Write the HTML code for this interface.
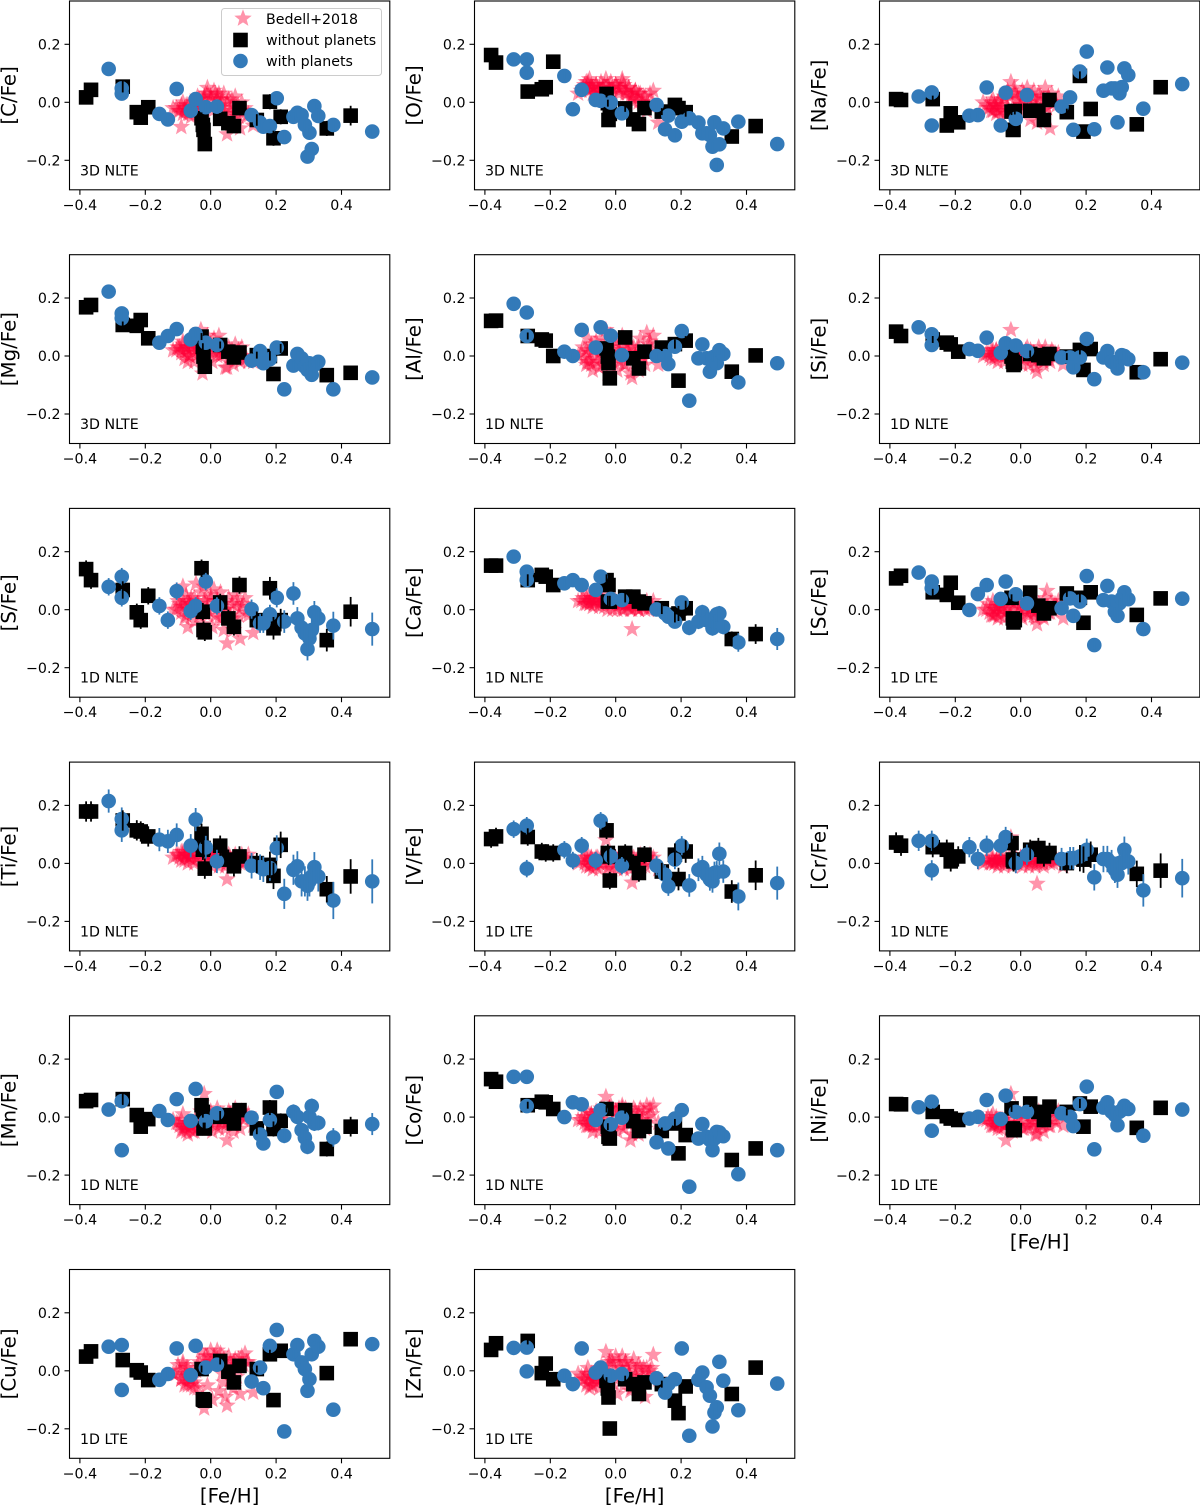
<!DOCTYPE html>
<html lang="en">
<head>
<meta charset="utf-8">
<title>Abundance ratios versus metallicity</title>
<style>
html,body{margin:0;padding:0;background:#fff;}
#figure{display:block;width:1200px;height:1506px;font-family:"DejaVu Sans","Liberation Sans",sans-serif;}
</style>
</head>
<body>
<svg id="figure" width="1200" height="1506" viewBox="0 0 1200 1506" xmlns="http://www.w3.org/2000/svg"></svg>
<script>
// Shared tick labels
const xTicks = [-0.4, -0.2, 0.0, 0.2, 0.4];
const yTicks = [-0.2, 0.0, 0.2];

// Shared [Fe/H] values
const starFeH = [-.115,-.10,-.09,-.085,-.08,-.075,-.07,-.065,-.06,-.05,-.045,-.04,-.03,-.025,-.02,-.015,-.01,0,.005,.01,.02,.025,.03,.04,.045,.05,.055,.06,.07,.075,.08,.09,.095,.105,.115,.13];
const coreFeH = [-.105,-.095,-.09,-.085,-.08,-.075,-.07,-.065,-.06,-.055,-.05,-.04,-.035,-.02,-.01,0,.01,.015,.02,.03,.035,.04,.05,.06,.065,.07,.08,.085,.1,.11];
const noPlanetFeH = [-.381,-.366,-.269,-.226,-.214,-.191,-.028,-.024,-.022,-.018,.029,.054,.071,.088,.141,.181,.192,.214,.355,.428];
const planetFeH = [-.312,-.272,-.272,-.157,-.131,-.104,-.061,-.046,-.015,.019,.125,.151,.161,.181,.202,.225,.253,.265,.278,.288,.296,.302,.309,.317,.329,.375,.494];

// Relative uncertainty of each star
const noPlanetErrWeight = [1,1,1,1,1,1,1,1,1,1,1,1,1,1,1,1.3,1.3,1.3,1.3,1.7];
const planetErrWeight = [1,1,1,1,1,1,1,1,1,1,1.1,1.1,1.1,1.1,1.1,1.3,1.3,1.3,1.3,1.3,1.3,1.3,1.3,1.3,1.3,1.6,1.9];

// [C/Fe]
const cStars = [-.02,-.03,-.085,0,-.03,-.01,-.04,-.03,-.05,-.02,0,.02,-.01,-.03,.01,.03,.05,.02,-.03,.04,.01,.03,-.02,.03,-.05,-.11,.01,-.03,-.08,.02,-.04,-.09,0,-.02,-.04,-.08];
const cCore = [-.02,-.03,-.01,-.04,-.02,-.03,-.01,-.04,-.02,-.03,0,-.02,.01,.02,.03,.01,-.01,.03,.02,-.01,.01,-.03,0,-.02,.01,-.04,-.02,-.05,-.03,-.05];
const cNoPlanet = [.017,.043,.054,-.034,-.053,-.017,-.055,-.078,-.095,-.144,-.057,-.072,-.082,-.02,-.061,.002,-.124,-.05,-.09,-.046];
const cPlanet = [.115,.048,.03,-.04,-.059,.046,-.029,.011,-.017,-.015,-.044,-.07,-.084,-.082,.014,-.12,-.05,-.036,-.044,-.078,-.187,-.105,-.161,-.013,-.047,-.078,-.101];

// [O/Fe]
const oStars = [.03,.05,.07,.06,.08,.05,.03,.04,.06,.04,.07,.05,.08,.06,.04,.07,.03,.06,.05,.04,.08,.06,.03,.05,.02,.01,.03,.04,0,.03,-.02,.02,-.03,.03,.04,-.07];
const oCore = [.04,.06,.05,.07,.04,.06,.05,.03,.06,.04,.05,.03,.06,.04,.05,.06,.03,.05,.07,.04,.03,.05,.02,.04,.01,.03,.0,.02,-.01,.0];
const oNoPlanet = [.163,.137,.037,.045,.052,.14,.029,-.003,-.061,-.04,-.021,-.059,-.075,-.02,-.032,-.009,-.02,-.034,-.118,-.082];
const oPlanet = [.148,.148,.102,.091,-.024,.043,.008,.005,-.001,-.038,-.009,-.093,-.046,-.114,-.067,-.055,-.07,-.107,-.107,-.113,-.153,-.069,-.216,-.145,-.09,-.067,-.144];

// [Na/Fe]
const naStars = [0,-.02,-.03,.01,-.01,-.04,-.03,.01,-.05,.02,-.04,.04,.07,-.02,.05,.03,.01,-.01,.04,-.03,.05,.02,-.06,.04,-.02,-.07,.03,0,-.05,.05,-.02,-.09,.03,0,.02,-.01];
const naCore = [-.01,-.02,0,-.03,-.01,-.02,0,-.03,-.01,-.02,.01,-.02,.02,.03,.01,-.01,.03,.0,.02,-.02,.02,.01,-.01,.02,-.03,.01,-.02,.02,.0,-.01];
const naNoPlanet = [.011,.008,.011,-.08,-.038,-.069,-.032,-.095,-.095,-.03,-.029,-.029,-.061,.008,-.034,.091,-.101,-.023,-.076,.052];
const naPlanet = [.02,.034,-.08,-.046,-.044,.051,-.08,.033,-.057,.025,-.015,.017,-.095,.106,.175,-.093,.04,.12,.048,.048,-.069,.031,.052,.117,.094,-.022,.063];

// [Mg/Fe]
const mgStars = [.02,.03,.01,.05,-.01,.03,-.02,0,.04,-.02,.05,.03,.09,-.06,.05,.02,.07,.03,-.02,.06,.01,.07,0,.02,-.04,-.04,.03,.01,-.03,.04,0,-.02,.03,-.01,-.02,-.02];
const mgCore = [.02,.03,.02,.04,.01,.03,.02,.0,.03,.01,.02,.04,.01,.03,.02,.04,.01,.03,.0,.02,.03,.01,.02,.0,.02,.01,-.01,.02,.0,-.01];
const mgNoPlanet = [.168,.176,.107,.104,.124,.061,.067,.032,-.002,-.037,.038,.015,-.005,.012,.003,0,-.062,.026,-.066,-.058];
const mgPlanet = [.222,.147,.13,.046,.069,.093,.057,.076,.046,.038,-.016,.017,-.025,-.011,.029,-.115,-.033,.007,-.008,-.037,-.048,-.025,-.065,-.031,-.02,-.115,-.074];

// [Al/Fe]
const alStars = [0,.03,-.03,.06,-.02,.04,-.05,.02,.05,-.04,.06,0,.09,-.06,.03,.07,-.02,.05,-.05,.02,.07,-.03,.04,.01,-.06,-.075,.03,0,-.05,.06,0,-.03,.08,.05,.07,-.03];
const alCore = [.01,-.01,.02,-.02,.01,-.03,.02,-.01,.03,-.02,.01,-.03,.03,-.01,.02,.04,-.02,.01,.03,-.03,.02,-.01,.03,.0,-.02,.03,.01,-.01,.04,.02];
const alNoPlanet = [.121,.122,.069,.057,.053,0,.026,-.002,-.025,-.077,.064,-.008,-.043,.015,.029,.041,-.085,.053,-.054,.002];
const alPlanet = [.18,.15,.069,.015,0,.09,.029,.099,.07,.003,0,0,-.028,.032,.086,-.154,-.008,.04,-.008,-.054,-.005,-.002,-.025,.02,.007,-.091,-.025];

// [Si/Fe]
const siStars = [0,.01,-.01,.02,-.01,.02,-.02,.01,.02,-.02,.03,.01,.09,-.03,.02,.03,-.02,.02,-.03,.01,.03,-.03,.02,-.02,-.04,-.055,.03,-.01,-.03,.03,-.01,-.02,.02,.01,.01,-.03];
const siCore = [.01,.0,.02,.01,.0,.02,.01,.0,.02,.01,.0,.02,.01,.0,.02,.01,-.01,.02,.0,.01,-.01,.01,.0,-.01,.01,-.02,.0,-.01,.01,.0];
const siNoPlanet = [.084,.069,.057,.046,.04,.015,-.002,-.02,-.031,-.025,.007,.003,-.008,.007,-.002,.021,-.048,.024,-.056,-.011];
const siPlanet = [.099,.075,.038,.024,.018,.063,.011,.044,.036,.017,-.005,-.005,-.039,-.005,.059,-.08,-.005,.017,-.02,-.025,-.043,-.014,.003,0,-.011,-.056,-.023];

// [S/Fe]
const sStars = [0,.03,.01,.08,-.03,.05,-.06,.02,.04,-.04,.09,.02,.06,-.05,.08,.03,-.02,.05,-.06,.07,.02,-.03,.06,-.07,0,-.116,.04,-.03,-.07,.05,.03,-.1,.01,.04,-.02,-.08];
const sCore = [.0,.02,-.01,.03,.01,-.02,.03,.0,.02,-.01,.04,.01,-.02,.03,.0,.04,.01,-.02,.03,.01,-.03,.02,.0,-.02,.02,-.03,.01,-.02,.02,-.01];
const sNoPlanet = [.14,.102,.068,-.009,-.036,.048,.143,-.007,-.07,-.078,.025,-.03,-.059,.085,-.036,.074,-.064,-.036,-.105,-.007];
const sPlanet = [.079,.114,.041,.013,-.036,.064,-.005,.013,.097,.013,.002,-.047,-.047,-.016,.041,-.041,.056,-.03,-.062,-.082,-.136,-.099,-.07,-.009,-.03,-.055,-.067];

// [Ca/Fe]
const caStars = [.03,.04,.02,.05,.02,.04,.01,.03,.04,.01,.04,.02,.05,0,.03,.04,0,.03,0,.02,.03,0,.02,.01,0,-.067,.03,.01,0,.03,.01,0,.03,.02,.03,0];
const caCore = [.03,.02,.04,.03,.02,.04,.03,.02,.03,.04,.02,.03,.01,.03,.02,.01,.03,.02,.0,.02,.01,.02,.0,.02,.01,.0,.02,.01,.0,.01];
const caNoPlanet = [.152,.152,.102,.12,.114,.085,.102,.028,.085,.028,.045,.045,.028,.022,.005,-.018,-.013,.005,-.101,-.084];
const caPlanet = [.183,.131,.102,.091,.102,.085,.068,.114,.037,.033,.001,-.013,-.024,-.041,.025,-.062,-.041,-.009,-.036,-.036,-.064,-.041,-.016,-.013,-.059,-.113,-.101];

// [Sc/Fe]
const scStars = [0,.02,-.02,.03,-.02,.01,-.03,.01,.02,-.03,.03,0,.03,-.03,.02,.03,-.02,.02,-.03,.01,.03,-.02,.01,-.01,-.03,-.05,.02,-.02,-.03,.04,.065,-.01,.03,.02,.03,-.03];
const scCore = [.0,-.01,.01,-.02,.0,-.01,.01,-.02,.0,.01,-.01,.01,-.02,.0,.01,-.02,.0,.01,-.01,.0,.02,-.02,.0,.01,-.02,.0,.01,-.01,.0,.01];
const scNoPlanet = [.108,.117,.06,.051,.093,.024,.041,-.03,-.044,-.036,.059,.014,-.013,.005,.056,.041,-.045,.06,-.018,.039];
const scPlanet = [.128,.097,.074,-.001,.054,.085,.037,.097,.053,.022,.005,.039,-.021,.028,.116,-.122,.033,.082,.028,-.007,-.021,.022,.039,.06,.036,-.067,.038];

// [Ti/Fe]
const tiStars = [.02,.03,.01,.04,.01,.03,0,.02,.04,0,.05,.02,.06,-.01,.04,.03,0,.04,-.01,.03,.04,-.01,.03,.01,-.01,-.055,.03,.01,0,.03,.01,0,.03,.02,.03,0];
const tiCore = [.03,.02,.04,.03,.02,.03,.04,.02,.03,.01,.03,.02,.04,.01,.02,.03,.01,.02,.03,.0,.02,.01,.0,.02,.01,.02,.0,.01,.0,.01];
const tiNoPlanet = [.179,.179,.148,.114,.11,.093,.102,.047,.053,-.018,.061,.013,-.01,.024,.001,-.005,-.043,.064,-.089,-.045];
const tiPlanet = [.215,.153,.114,.082,.076,.098,.061,.151,.055,.007,-.008,-.013,-.02,-.016,.053,-.105,-.022,-.01,-.062,-.062,-.077,-.062,-.045,-.013,-.045,-.128,-.062];

// [V/Fe]
const vStars = [0,.02,-.01,.03,-.01,.02,-.02,0,.02,-.02,.02,0,.08,-.02,.02,.03,-.02,.02,-.02,.01,.03,-.02,.02,0,-.02,-.066,.02,-.01,-.02,.03,.01,-.01,.02,.03,.02,-.02];
const vCore = [.01,.0,.02,.01,-.01,.02,.0,.01,-.01,.02,.0,.01,.02,-.01,.01,.0,.02,.01,-.01,.02,.0,.01,.02,.0,.01,.02,-.01,.01,.02,.0];
const vNoPlanet = [.084,.093,.091,.041,.036,.036,.114,.036,.024,-.059,.036,.001,-.033,.03,-.028,.03,-.054,.041,-.097,-.041];
const vPlanet = [.118,.13,-.018,.047,.01,.061,.01,.147,.024,-.008,-.008,-.039,-.079,.013,.061,-.076,-.022,-.013,-.039,-.055,-.062,-.033,-.031,.033,-.028,-.114,-.068];

// [Cr/Fe]
const crStars = [0,.01,0,.02,0,.01,-.01,.01,.02,-.01,.02,0,.09,-.01,.02,.02,0,.02,-.01,.01,.02,-.01,.02,0,-.01,-.07,.02,0,-.01,.02,.01,0,.02,.01,.01,-.01];
const crCore = [.01,.0,.02,.01,.0,.01,.02,.0,.01,.02,.0,.01,.02,.0,.01,.02,.0,.01,.02,.0,.01,.02,.0,.01,.02,.0,.01,.02,.0,.01];
const crNoPlanet = [.072,.061,.056,.047,.007,.024,.07,.013,.007,.013,.047,.053,.024,.036,.001,.018,.013,.03,-.036,-.025];
const crPlanet = [.078,.078,-.024,.056,.015,.061,.061,.091,.001,.03,.015,.018,.018,.024,.047,-.048,.015,.015,.001,-.022,-.039,.001,.001,.047,.007,-.093,-.051];

// [Mn/Fe]
const mnStars = [-.01,-.02,-.05,.01,-.04,-.03,-.06,-.02,-.03,-.05,0,-.02,.02,-.04,.08,.02,-.03,.02,-.05,0,.03,-.04,.01,-.02,-.04,-.08,.02,-.02,-.05,.03,-.01,-.04,.02,0,.01,-.03];
const mnCore = [-.02,-.03,-.01,-.04,-.03,-.05,-.02,-.04,-.03,-.05,-.02,-.04,-.03,-.01,-.03,.0,-.02,-.03,.01,-.02,-.01,.0,-.02,.01,-.01,-.03,.0,.01,-.01,.0];
const mnNoPlanet = [.055,.059,.062,.007,-.033,-.007,.041,.018,-.039,-.039,.001,.007,-.022,.024,-.039,.033,-.041,-.013,-.11,-.033];
const mnPlanet = [.026,.055,-.114,.021,-.01,.062,-.013,.097,-.014,.013,-.002,-.06,-.091,-.01,.087,-.064,.018,.001,-.045,-.071,-.102,.001,.038,-.022,-.02,-.07,-.024];

// [Co/Fe]
const coStars = [-.01,0,-.03,.02,-.03,.01,-.05,0,.02,-.05,.03,-.01,.07,-.07,.03,.04,-.04,.02,-.05,.03,.04,-.04,.03,-.02,-.08,-.06,.03,-.02,-.06,.03,-.01,-.04,.04,.03,.04,-.02];
const coCore = [-.01,-.02,.0,-.03,-.02,.01,-.03,-.01,.01,-.03,.02,-.02,.01,.03,-.02,.02,.0,-.03,.03,.01,-.02,.02,-.01,.02,-.03,.01,-.01,.02,.0,.01];
const coNoPlanet = [.131,.122,.041,.053,.051,.028,.028,-.033,-.068,-.074,.024,-.014,-.048,-.033,-.048,-.022,-.125,-.062,-.148,-.108];
const coPlanet = [.139,.139,.038,0,.051,.044,-.01,.024,-.025,-.002,-.087,-.022,-.108,-.005,.024,-.24,-.074,-.024,-.068,-.079,-.114,-.074,-.051,-.053,-.066,-.197,-.114];

// [Ni/Fe]
const niStars = [-.01,0,-.03,.01,-.03,0,-.04,-.02,-.01,-.03,-.08,-.02,.08,-.05,.02,.02,-.03,.01,-.04,.01,.02,-.03,.01,-.02,-.06,-.06,.02,-.02,-.05,.03,0,-.03,.03,0,.02,-.03];
const niCore = [-.01,-.02,.0,-.03,-.02,-.01,-.03,-.02,-.04,-.01,-.03,-.02,-.01,-.03,.0,-.02,-.04,.01,-.03,-.01,-.03,.0,-.04,-.01,-.03,-.02,.0,-.03,-.01,-.02];
const niNoPlanet = [.045,.044,.018,.003,-.005,-.01,.03,-.039,-.045,-.045,.047,.018,-.01,.036,.018,.047,-.033,.036,-.037,.032];
const niPlanet = [.034,.053,-.047,-.005,.001,.059,-.007,.074,.018,.018,.013,.001,-.031,.045,.105,-.111,.033,.051,.018,.007,-.028,.018,.024,.039,.028,-.064,.026];

// [Cu/Fe]
const cuStars = [-.01,.02,-.03,.03,-.05,.01,-.05,-.02,-.03,-.06,0,.02,.07,-.09,-.13,.05,-.05,.07,-.1,.03,.07,-.07,.06,-.04,-.09,-.12,.05,-.03,-.06,.04,-.02,-.08,.05,.06,.03,-.075];
const cuCore = [-.01,.0,-.03,.02,-.02,-.04,.01,-.03,-.05,-.02,-.04,-.06,.03,.04,.05,.03,.05,.02,.04,.03,-.01,.04,.02,.03,.0,.03,.01,.04,.02,.03];
const cuNoPlanet = [.049,.067,.037,.002,-.006,-.032,.006,-.098,-.1,-.103,.034,-.003,-.04,.017,.006,.057,-.101,.069,-.008,.109];
const cuPlanet = [.083,.089,-.066,-.031,-.011,.077,-.015,.086,.011,.021,-.037,.011,-.06,.086,.141,-.209,.057,.089,.029,.006,-.069,-.029,.057,.103,.083,-.134,.092];

// [Zn/Fe]
const znStars = [-.01,-.03,-.05,.01,-.06,-.01,-.05,-.02,-.03,-.06,.01,-.02,.065,-.07,.03,.04,-.04,.05,-.08,.01,.05,-.05,.03,-.01,-.07,-.06,.04,-.02,-.07,.01,-.03,-.09,.01,0,.055,-.03];
const znCore = [-.02,-.03,-.01,-.04,-.02,-.05,-.03,-.01,-.04,-.02,-.03,.0,-.03,.02,.03,-.02,.03,.01,-.03,.03,.01,-.02,.02,.0,-.03,.02,-.02,.01,-.01,.01];
const znNoPlanet = [.072,.095,.103,-.008,.025,-.029,-.034,-.061,-.092,-.199,-.029,-.046,-.08,-.04,-.046,-.103,-.146,-.054,-.08,.011];
const znPlanet = [.079,.08,-.002,-.017,-.046,.077,-.006,.011,-.017,-.011,-.026,-.075,-.046,-.029,.077,-.224,-.031,-.006,-.057,-.086,-.192,-.144,-.126,.031,-.034,-.136,-.044];

const panels = [
  {label:'[C/Fe]', note:'3D NLTE', stars:cStars, core:cCore, none:cNoPlanet, with:cPlanet, errNone:.02, errWith:.012},
  {label:'[O/Fe]', note:'3D NLTE', stars:oStars, core:oCore, none:oNoPlanet, with:oPlanet, errNone:.012, errWith:.012},
  {label:'[Na/Fe]', note:'3D NLTE', stars:naStars, core:naCore, none:naNoPlanet, with:naPlanet, errNone:.012, errWith:.012},
  {label:'[Mg/Fe]', note:'3D NLTE', stars:mgStars, core:mgCore, none:mgNoPlanet, with:mgPlanet, errNone:.012, errWith:.012},
  {label:'[Al/Fe]', note:'1D NLTE', stars:alStars, core:alCore, none:alNoPlanet, with:alPlanet, errNone:.012, errWith:.012},
  {label:'[Si/Fe]', note:'1D NLTE', stars:siStars, core:siCore, none:siNoPlanet, with:siPlanet, errNone:.012, errWith:.012},
  {label:'[S/Fe]', note:'1D NLTE', stars:sStars, core:sCore, none:sNoPlanet, with:sPlanet, errNone:.03, errWith:.03},
  {label:'[Ca/Fe]', note:'1D NLTE', stars:caStars, core:caCore, none:caNoPlanet, with:caPlanet, errNone:.02, errWith:.02},
  {label:'[Sc/Fe]', note:'1D LTE', stars:scStars, core:scCore, none:scNoPlanet, with:scPlanet, errNone:.012, errWith:.012},
  {label:'[Ti/Fe]', note:'1D NLTE', stars:tiStars, core:tiCore, none:tiNoPlanet, with:tiPlanet, errNone:.035, errWith:.04},
  {label:'[V/Fe]', note:'1D LTE', stars:vStars, core:vCore, none:vNoPlanet, with:vPlanet, errNone:.03, errWith:.03},
  {label:'[Cr/Fe]', note:'1D NLTE', stars:crStars, core:crCore, none:crNoPlanet, with:crPlanet, errNone:.035, errWith:.035},
  {label:'[Mn/Fe]', note:'1D NLTE', stars:mnStars, core:mnCore, none:mnNoPlanet, with:mnPlanet, errNone:.02, errWith:.02},
  {label:'[Co/Fe]', note:'1D NLTE', stars:coStars, core:coCore, none:coNoPlanet, with:coPlanet, errNone:.012, errWith:.012},
  {label:'[Ni/Fe]', note:'1D LTE', stars:niStars, core:niCore, none:niNoPlanet, with:niPlanet, errNone:.012, errWith:.012},
  {label:'[Cu/Fe]', note:'1D LTE', stars:cuStars, core:cuCore, none:cuNoPlanet, with:cuPlanet, errNone:.012, errWith:.012},
  {label:'[Zn/Fe]', note:'1D LTE', stars:znStars, core:znCore, none:znNoPlanet, with:znPlanet, errNone:.012, errWith:.012}
];

const BLUE = '#337ab9';
const STAR = '#ff0037';
const svg = document.getElementById('figure');
const svgNS = svg.namespaceURI;

function mk(parent, tag, attrs) {
  const el = document.createElementNS(svgNS, tag);
  for (const k in attrs) el.setAttribute(k, attrs[k]);
  parent.appendChild(el);
  return el;
}
function starPoints(cx, cy, R) {
  const r = R * 0.42;
  const pts = [];
  for (let i = 0; i < 10; i++) {
    const a = -Math.PI / 2 + i * Math.PI / 5;
    const q = i % 2 ? r : R;
    pts.push((cx + q * Math.cos(a)).toFixed(1) + ',' + (cy + q * Math.sin(a)).toFixed(1));
  }
  return pts.join(' ');
}
function fmtTick(v) {
  return (v < 0 ? '\u2212' : '') + Math.abs(v).toFixed(1);
}

panels.forEach(function (p, idx) {
  const col = idx % 3;
  const row = Math.floor(idx / 3);
  const left = 69.5 + 405 * col;
  const right = 389.8 + 405 * col;
  const top = 1 + 253.7 * row;
  const bottom = 189.8 + 253.7 * row;
  const xAxis = function (v) { return 210.7 + 405 * col + 327 * v; };
  const yAxis = function (v) { return 102.3 + 253.7 * row - 290 * v; };

  const g = mk(svg, 'g', {});
  
  

  p.core.forEach(function (v, i) {
    const el = mk(g, 'polygon', {points: starPoints(xAxis(coreFeH[i]), yAxis(v), 9.2), fill: STAR, 'fill-opacity': 0.42});
    
    
  });
  p.stars.forEach(function (v, i) {
    const el = mk(g, 'polygon', {points: starPoints(xAxis(starFeH[i]), yAxis(v), 9.2), fill: STAR, 'fill-opacity': 0.42});
    
    
  });
  p.none.forEach(function (v, i) {
    const s = 14.6;
    const el = mk(g, 'rect', {x: xAxis(noPlanetFeH[i]) - s / 2, y: yAxis(v) - s / 2, width: s, height: s, fill: '#000'});
    
    
  });
  p.with.forEach(function (v, i) {
    const el = mk(g, 'circle', {cx: xAxis(planetFeH[i]), cy: yAxis(v), r: 7.3, fill: BLUE});
    
    
  });
  p.with.forEach(function (v, i) {
    const e = p.errWith * planetErrWeight[i];
    const el = mk(g, 'line', {x1: xAxis(planetFeH[i]), x2: xAxis(planetFeH[i]), y1: yAxis(v - e), y2: yAxis(v + e), stroke: BLUE, 'stroke-width': 1.8});
    
    
  });
  p.none.forEach(function (v, i) {
    const e = p.errNone * noPlanetErrWeight[i];
    const el = mk(g, 'line', {x1: xAxis(noPlanetFeH[i]), x2: xAxis(noPlanetFeH[i]), y1: yAxis(v - e), y2: yAxis(v + e), stroke: '#000', 'stroke-width': 1.8});
    
    
  });

  const frame = mk(g, 'rect', {x: left, y: top, width: right - left, height: bottom - top, fill: 'none', stroke: '#000', 'stroke-width': 1.1});
  
  

  xTicks.forEach(function (v) {
    const tx = xAxis(v);
    const tick = mk(g, 'line', {x1: tx, x2: tx, y1: bottom, y2: bottom + 5, stroke: '#000', 'stroke-width': 1.1});
    
    
    const lab = mk(g, 'text', {x: tx, y: bottom + 20, 'text-anchor': 'middle', 'font-size': 14.2, fill: '#000'});
    
    
    lab.textContent = fmtTick(v);
  });
  yTicks.forEach(function (v) {
    const ty = yAxis(v);
    const tick = mk(g, 'line', {x1: left - 5, x2: left, y1: ty, y2: ty, stroke: '#000', 'stroke-width': 1.1});
    
    
    const lab = mk(g, 'text', {x: left - 9, y: ty + 5.2, 'text-anchor': 'end', 'font-size': 14.2, fill: '#000'});
    
    
    lab.textContent = fmtTick(v);
  });

  const note = mk(g, 'text', {x: left + 10.5, y: bottom - 14.5, 'font-size': 14.2, fill: '#000'});
  
  
  note.textContent = p.note;

  const yx = left - 54;
  const yy = (top + bottom) / 2;
  const yl = mk(g, 'text', {x: yx, y: yy, 'text-anchor': 'middle', 'font-size': 19.8, fill: '#000', transform: 'rotate(-90 ' + yx + ' ' + yy + ')'});
  
  
  yl.textContent = p.label;

  if (idx >= 14) {
    const xl = mk(g, 'text', {x: (left + right) / 2, y: bottom + 44, 'text-anchor': 'middle', 'font-size': 19.8, fill: '#000'});
    
    
    xl.textContent = '[Fe/H]';
  }
});

// Legend (first panel)
const legend = mk(svg, 'g', {});



const legendBox = mk(legend, 'rect', {x: 221.5, y: 8.5, width: 160, height: 67, rx: 3, fill: '#fff', 'fill-opacity': 0.8, stroke: '#ccc', 'stroke-width': 1});



const legendStar = mk(legend, 'polygon', {points: starPoints(243, 18.5, 9.2), fill: STAR, 'fill-opacity': 0.42});



const legendSquare = mk(legend, 'rect', {x: 233.2, y: 32.7, width: 14.6, height: 14.6, fill: '#000'});



const legendCircle = mk(legend, 'circle', {cx: 240.5, cy: 61, r: 7.3, fill: BLUE});



const legendText1 = mk(legend, 'text', {x: 266, y: 24, 'font-size': 14.2, fill: '#000'});


legendText1.textContent = 'Bedell+2018';

const legendText2 = mk(legend, 'text', {x: 266, y: 45, 'font-size': 14.2, fill: '#000'});


legendText2.textContent = 'without planets';

const legendText3 = mk(legend, 'text', {x: 266, y: 66, 'font-size': 14.2, fill: '#000'});


legendText3.textContent = 'with planets';
</script>
</body>
</html>
